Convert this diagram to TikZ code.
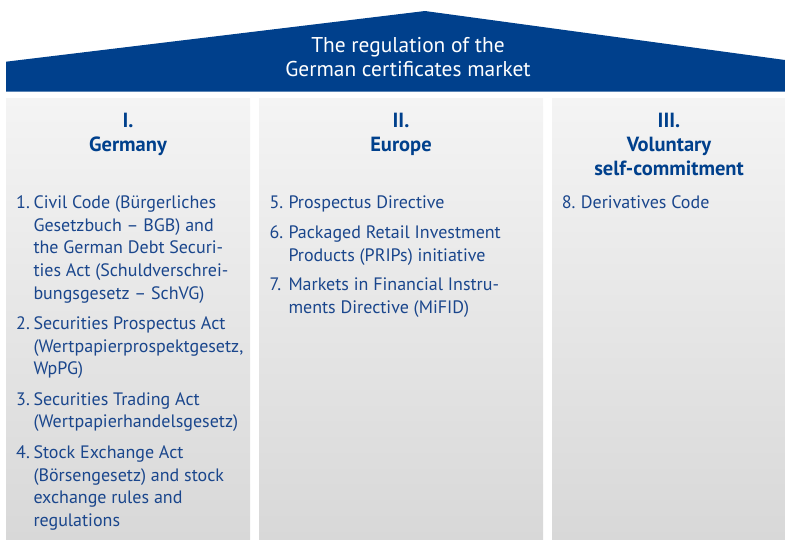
\documentclass[tikz,border=0pt]{standalone}
\usepackage{fontspec}
\setmainfont{PT Sans}
\definecolor{roofblue}{RGB}{0,64,140}
\definecolor{inkblue}{RGB}{26,70,140}
\definecolor{pillartop}{RGB}{244,244,244}
\definecolor{pillarbot}{RGB}{216,216,216}
% stacked lines, baseline on the first one
\newcommand\lstack[1]{\begin{tabular}[t]{@{}l@{}}#1\end{tabular}}
\newcommand\cstack[1]{\begin{tabular}[t]{@{}c@{}}#1\end{tabular}}
\begin{document}
\begin{tikzpicture}[x=1pt, y=-1pt,
   roof/.style={fill=roofblue, draw=none},
   pillar/.style={top color=pillartop, bottom color=pillarbot, draw=none},
   title/.style={text=white, inner sep=0pt, anchor=base,
      font=\fontsize{21.4}{23.3}\selectfont},
   head/.style={text=roofblue, inner sep=0pt, anchor=base,
      font=\fontsize{20.5}{23.7}\selectfont\bfseries},
   num/.style={text=inkblue, inner sep=0pt, anchor=base west,
      font=\fontsize{18}{22.7}\selectfont},
   item/.style={num}]
	  \useasboundingbox (0,0) rectangle (785,539);

	  % roof
	  \path[roof] (6,91.5) -- (6,61.7) -- (425,11) -- (785,60) -- (785,91.5) -- cycle;
	  \node[title] (title) at (408,52.7) {\cstack{The regulation of the\\German certificates market}};

	  % pillars
	  \foreach \l/\r in {6/250, 259/543, 552/785}
	    \path[pillar] (\l,98) rectangle (\r,539);

	  \node[head] (head1) at (128,127.7) {\cstack{I.\\Germany}};
	  \node[head] (head2) at (401,127.7) {\cstack{II.\\Europe}};
	  \node[head] (head3) at (669,127.7) {\cstack{III.\\Voluntary\\self-commitment}};

	  % I. Germany
	  \node[num]  (n1) at (16,208.5) {1.};
	  \node[item] (t1) at (33.3,208.5) {\lstack{Civil Code (Bürgerliches\\Gesetzbuch – BGB) and\\the German Debt Securi-\\ties Act (Schuldverschrei-\\bungsgesetz – SchVG)}};
	  \node[num]  (n2) at (16,329.3) {2.};
	  \node[item] (t2) at (33.3,329.3) {\lstack{Securities Prospectus Act\\(Wertpapierprospektgesetz,\\WpPG)}};
	  \node[num]  (n3) at (16,405) {3.};
	  \node[item] (t3) at (33.3,405) {\lstack{Securities Trading Act\\(Wertpapierhandelsgesetz)}};
	  \node[num]  (n4) at (16,458.3) {4.};
	  \node[item] (t4) at (33.3,458.3) {\lstack{Stock Exchange Act\\(Börsengesetz) and stock\\exchange rules and\\regulations}};

	  % II. Europe
	  \node[num]  (n5) at (269.3,208.3) {5.};
	  \node[item] (t5) at (288.3,208.3) {Prospectus Directive};
	  \node[num]  (n6) at (269.3,238.7) {6.};
	  \node[item] (t6) at (288.3,238.7) {\lstack{Packaged Retail Investment\\Products (PRIPs) initiative}};
	  \node[num]  (n7) at (269.3,290.7) {7.};
	  \node[item] (t7) at (288.3,290.7) {\lstack{Markets in Financial Instru-\\ments Directive (MiFID)}};

	  % III. self-commitment
	  \node[num]  (n8) at (561.7,208) {8.};
	  \node[item] (t8) at (580.7,208) {Derivatives Code};

	\end{tikzpicture}
\end{document}
